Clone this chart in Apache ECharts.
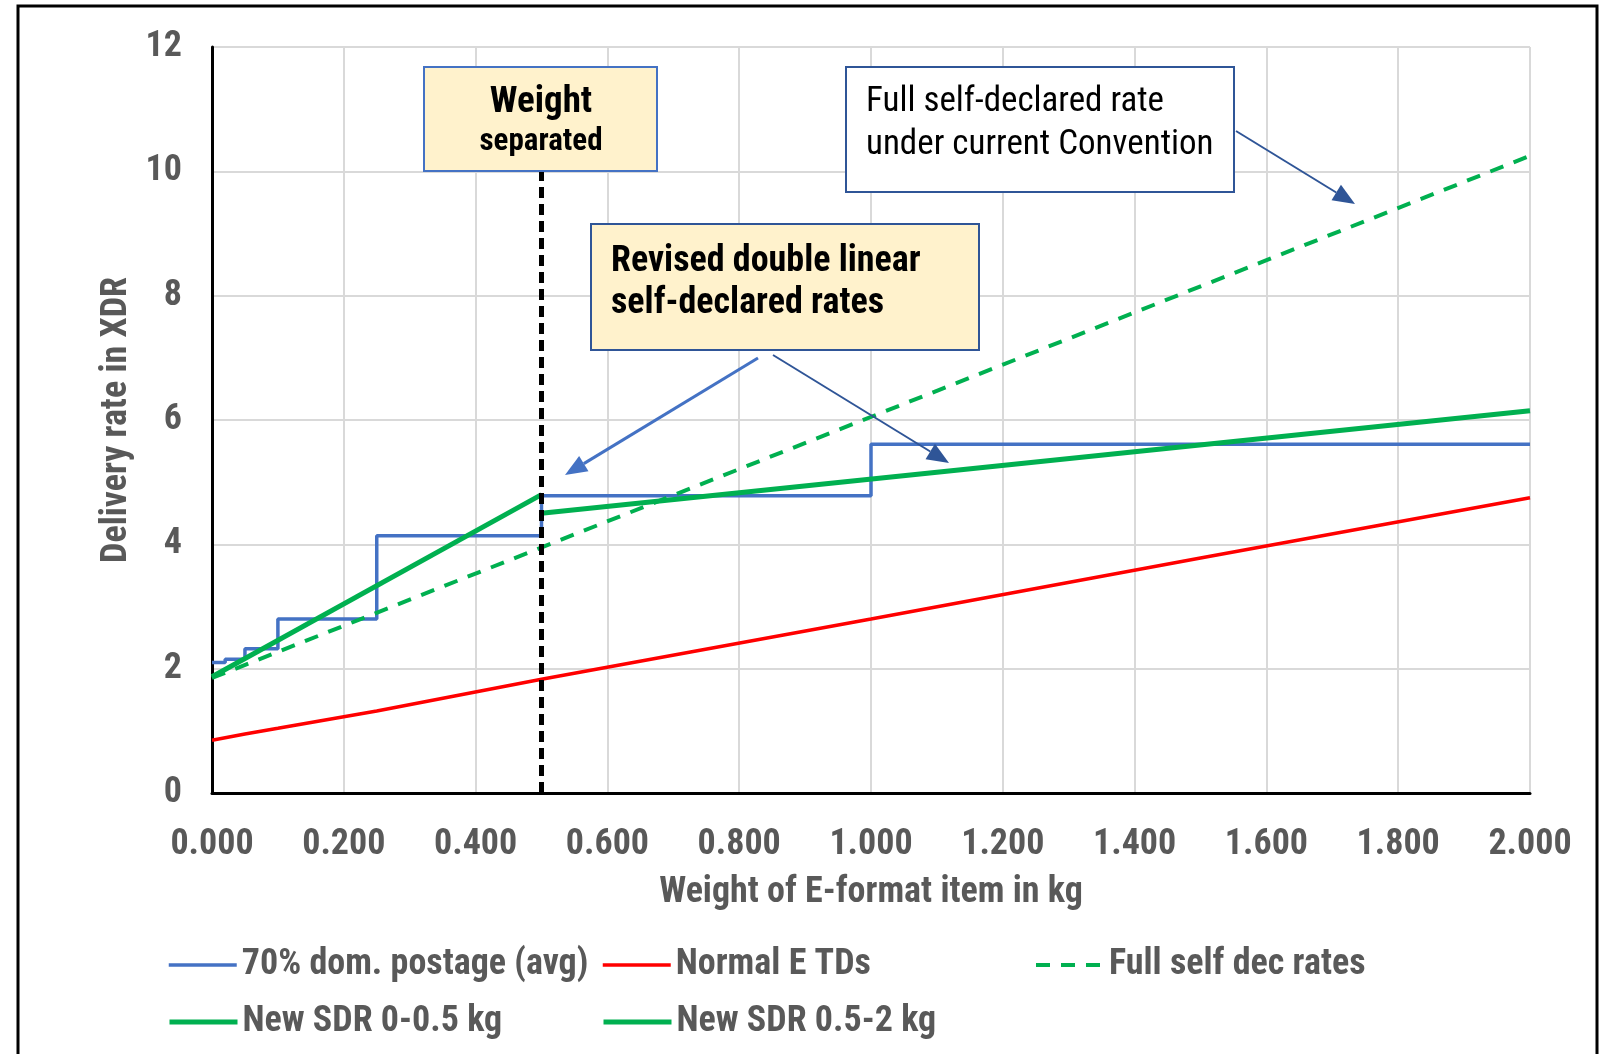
<!DOCTYPE html>
<html>
<head>
<meta charset="utf-8">
<script src="https://cdn.jsdelivr.net/npm/echarts@6/dist/echarts.min.js"></script>
<style>
  html, body { margin: 0; padding: 0; background: #fff; }
  #chart { width: 1606px; height: 1054px; }
</style>
</head>
<body>
<div id="chart"></div>
<script>
// values (weight in kg, rate in XDR)
const xTicks = [0, 0.2, 0.4, 0.6, 0.8, 1.0, 1.2, 1.4, 1.6, 1.8, 2.0];

const domWeights = [0, 0.02, 0.05, 0.1, 0.25, 0.5, 1.0, 2.0];
const domRates   = [2.10, 2.15, 2.32, 2.80, 4.14, 4.78, 5.61, 5.61];

const tdWeights = [0, 0.05, 0.1, 0.25, 0.5, 1.0, 1.5, 2.0];
const tdRates   = [0.85, 0.95, 1.04, 1.32, 1.83, 2.80, 3.78, 4.75];

const fullWeights = [0, 2.0];
const fullRates   = [1.85, 10.25];

const sdr1Weights = [0, 0.5];
const sdr1Rates   = [1.87, 4.80];

const sdr2Weights = [0.5, 2.0];
const sdr2Rates   = [4.50, 6.15];

const sepWeights = [0.5, 0.5];
const sepRates   = [0, 10];

const names = ['70% dom. postage (avg)', 'Normal E TDs', 'Full self dec rates',
               'New SDR 0-0.5 kg', 'New SDR 0.5-2 kg'];

const FONT = '"Liberation Sans Narrow", "Arial Narrow", "Roboto Condensed", "Liberation Sans", sans-serif';
const GREY = '#595959';

function pairs(xs, ys) {
  return xs.map((x, i) => [x, ys[i]]);
}

function legendAt(name, left, top, lineW) {
  return {
    data: [name],
    left: left,
    top: top,
    padding: 0,
    itemWidth: 68,
    itemHeight: 14,
    itemStyle: { opacity: 0 },
    lineStyle: { width: lineW },
    textStyle: { fontFamily: FONT, fontWeight: 'bold', fontSize: 36, color: GREY, lineHeight: 40, padding: [0, 0, 0, 0] }
  };
}

function arrow(x1, y1, x2, y2, color, width) {
  const ang = Math.atan2(y2 - y1, x2 - x1);
  const len = 22, half = 9;
  const bx = x2 - len * Math.cos(ang), by = y2 - len * Math.sin(ang);
  const px = -Math.sin(ang) * half, py = Math.cos(ang) * half;
  return [
    { type: 'line', z: 100, shape: { x1: x1, y1: y1, x2: bx, y2: by }, style: { stroke: color, lineWidth: width } },
    { type: 'polygon', z: 100, shape: { points: [[x2, y2], [bx + px, by + py], [bx - px, by - py]] }, style: { fill: color } }
  ];
}

const chart = echarts.init(document.getElementById('chart'));

const option = {
  animation: false,
  backgroundColor: '#fff',
  grid: { left: 212, right: 76, top: 47, bottom: 261 },
  xAxis: {
    type: 'value',
    min: 0, max: 2, interval: 0.2,
    name: 'Weight of E-format item in kg',
    nameLocation: 'middle',
    nameGap: 82,
    nameTextStyle: { fontFamily: FONT, fontWeight: 'bold', fontSize: 36, color: GREY },
    axisLine: { show: true, onZero: false, lineStyle: { color: '#000', width: 3 } },
    axisTick: { show: false },
    axisLabel: {
      margin: 34,
      fontFamily: FONT, fontWeight: 'bold', fontSize: 36, color: GREY,
      formatter: v => v.toFixed(3)
    },
    splitLine: { show: true, lineStyle: { color: '#D9D9D9', width: 2 } }
  },
  yAxis: {
    type: 'value',
    min: 0, max: 12, interval: 2,
    name: 'Delivery rate in XDR',
    nameLocation: 'middle',
    nameRotate: 90,
    nameGap: 76,
    nameTextStyle: { fontFamily: FONT, fontWeight: 'bold', fontSize: 36, color: GREY },
    axisLine: { show: true, lineStyle: { color: '#000', width: 3 } },
    axisTick: { show: false },
    axisLabel: { margin: 30, fontFamily: FONT, fontWeight: 'bold', fontSize: 36, color: GREY },
    splitLine: { show: true, lineStyle: { color: '#D9D9D9', width: 2 } }
  },
  legend: [
    legendAt(names[0], 167, 945, 3.5),
    legendAt(names[1], 601, 945, 3.5),
    legendAt(names[2], 1034, 945, 4),
    legendAt(names[3], 167, 1002, 5),
    legendAt(names[4], 601, 1002, 5)
  ],
  series: [
    {
      name: names[0], type: 'line', step: 'end', symbol: 'none',
      data: pairs(domWeights, domRates),
      lineStyle: { color: '#4472C4', width: 3.5 }, itemStyle: { color: '#4472C4' }
    },
    {
      name: names[1], type: 'line', symbol: 'none',
      data: pairs(tdWeights, tdRates),
      lineStyle: { color: '#FF0000', width: 3.5 }, itemStyle: { color: '#FF0000' }
    },
    {
      name: names[2], type: 'line', symbol: 'none',
      data: pairs(fullWeights, fullRates),
      lineStyle: { color: '#00B050', width: 4, type: [14, 11] }, itemStyle: { color: '#00B050' }
    },
    {
      name: names[3], type: 'line', symbol: 'none',
      data: pairs(sdr1Weights, sdr1Rates),
      lineStyle: { color: '#00B050', width: 5 }, itemStyle: { color: '#00B050' }
    },
    {
      name: names[4], type: 'line', symbol: 'none',
      data: pairs(sdr2Weights, sdr2Rates),
      lineStyle: { color: '#00B050', width: 5 }, itemStyle: { color: '#00B050' }
    },
    {
      name: 'separator', type: 'line', symbol: 'none', z: 5,
      data: pairs(sepWeights, sepRates),
      lineStyle: { color: '#000', width: 5, type: [11, 6] }
    }
  ],
  graphic: [
    // outer frame
    { type: 'rect', z: 100, shape: { x: 18, y: 6, width: 1579, height: 1080 },
      style: { fill: 'none', stroke: '#000', lineWidth: 3 } },

    // "Weight separated" box
    { type: 'rect', z: 100, shape: { x: 424, y: 67, width: 233, height: 104 },
      style: { fill: '#FFF2CC', stroke: '#4472C4', lineWidth: 2 } },
    { type: 'text', z: 101, style: { text: 'Weight', x: 541, y: 103, textAlign: 'center', textVerticalAlign: 'middle',
      font: 'bold 37px ' + FONT, fill: '#000' } },
    { type: 'text', z: 101, style: { text: 'separated', x: 541, y: 142, textAlign: 'center', textVerticalAlign: 'middle',
      font: 'bold 31px ' + FONT, fill: '#000' } },

    // "Full self-declared rate" box
    { type: 'rect', z: 100, shape: { x: 846, y: 67, width: 388, height: 125 },
      style: { fill: '#fff', stroke: '#2F5597', lineWidth: 2 } },
    { type: 'text', z: 101, style: { text: 'Full self-declared rate', x: 866, y: 102, textVerticalAlign: 'middle',
      font: '35px ' + FONT, fill: '#000' } },
    { type: 'text', z: 101, style: { text: 'under current Convention', x: 866, y: 145, textVerticalAlign: 'middle',
      font: '35px ' + FONT, fill: '#000' } },

    // "Revised double linear" box
    { type: 'rect', z: 100, shape: { x: 591, y: 224, width: 388, height: 126 },
      style: { fill: '#FFF2CC', stroke: '#2F5597', lineWidth: 2 } },
    { type: 'text', z: 101, style: { text: 'Revised double linear', x: 611, y: 262, textVerticalAlign: 'middle',
      font: 'bold 36px ' + FONT, fill: '#000' } },
    { type: 'text', z: 101, style: { text: 'self-declared rates', x: 611, y: 304, textVerticalAlign: 'middle',
      font: 'bold 36px ' + FONT, fill: '#000' } }
  ]
    .concat(arrow(1236, 131, 1355, 204, '#2F5597', 2))
    .concat(arrow(758, 358, 565, 475, '#4472C4', 3))
    .concat(arrow(773, 355, 949, 463, '#2F5597', 2))
};

chart.setOption(option);
</script>
</body>
</html>
